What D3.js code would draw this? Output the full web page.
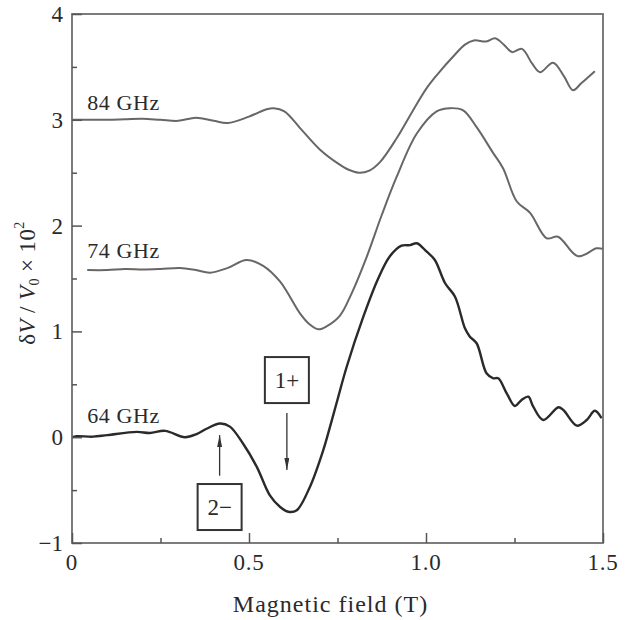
<!DOCTYPE html>
<html>
<head>
<meta charset="utf-8">
<script src="https://cdn.jsdelivr.net/npm/d3@7"></script>
<style>
  html, body { margin: 0; padding: 0; background: #fff; }
  #chart { width: 632px; height: 620px; }
  text { font-family: "Liberation Serif", "Times New Roman", Times, serif; fill: #2a2a2a; }
</style>
</head>
<body>
<div id="chart"></div>
<script>
'use strict';

const MARGIN = { top: 14, right: 29, bottom: 77, left: 72 };
const W = 632, H = 620;
const FONT = '"Liberation Serif", "Times New Roman", Times, serif';

// Ticks
const X_MAJOR = [0, 0.5, 1.0, 1.5];
const X_MINOR = [0.25, 0.75, 1.25];
const X_LABELS = ['0', '0.5', '1.0', '1.5'];
const Y_MAJOR = [-1, 0, 1, 2, 3, 4];
const Y_MINOR = [-0.5, 0.5, 1.5, 2.5, 3.5];

// 84 GHz trace
const field84 = [0, 0.05, 0.10, 0.15, 0.20, 0.25, 0.30, 0.35, 0.40, 0.44, 0.50, 0.55, 0.57, 0.60, 0.65,
  0.70, 0.75, 0.78, 0.81, 0.84, 0.87, 0.918, 0.96, 1.0, 1.03, 1.08, 1.11, 1.135, 1.17, 1.195, 1.22,
  1.243, 1.271, 1.30, 1.322, 1.359, 1.39, 1.415, 1.44, 1.477];
const dv84 = [3.00, 3.00, 3.00, 3.005, 3.01, 3.00, 2.99, 3.02, 2.99, 2.97, 3.03, 3.10, 3.11, 3.08, 2.90,
  2.72, 2.59, 2.53, 2.50, 2.52, 2.60, 2.83, 3.07, 3.29, 3.42, 3.61, 3.71, 3.75, 3.74, 3.77, 3.71,
  3.64, 3.67, 3.53, 3.45, 3.54, 3.41, 3.28, 3.35, 3.46];

// 74 GHz trace
const field74 = [0.043, 0.10, 0.15, 0.20, 0.25, 0.305, 0.35, 0.39, 0.44, 0.493, 0.54, 0.588, 0.644, 0.67,
  0.696, 0.72, 0.757, 0.79, 0.832, 0.875, 0.917, 0.974, 1.030, 1.068, 1.105, 1.143, 1.189, 1.218,
  1.256, 1.294, 1.341, 1.373, 1.429, 1.482, 1.5];
const dv74 = [1.58, 1.58, 1.59, 1.585, 1.59, 1.60, 1.58, 1.555, 1.60, 1.675, 1.62, 1.47, 1.17, 1.07,
  1.02, 1.05, 1.15, 1.36, 1.70, 2.10, 2.46, 2.87, 3.08, 3.11, 3.09, 2.93, 2.69, 2.54,
  2.23, 2.12, 1.88, 1.895, 1.71, 1.785, 1.78];

// 64 GHz trace
const field64 = [0, 0.013, 0.059, 0.10, 0.183, 0.22, 0.263, 0.319, 0.352, 0.38, 0.418, 0.446, 0.483, 0.522,
  0.559, 0.588, 0.611, 0.635, 0.672, 0.71, 0.729, 0.748, 0.776, 0.823, 0.865, 0.898, 0.931, 0.955,
  0.974, 1.002, 1.025, 1.054, 1.082, 1.110, 1.124, 1.143, 1.171, 1.190, 1.204, 1.228, 1.251, 1.270,
  1.289, 1.303, 1.331, 1.374, 1.388, 1.426, 1.454, 1.477, 1.496];
const dv64 = [0.0, 0.01, 0.005, 0.02, 0.05, 0.04, 0.06, 0.0, 0.03, 0.08, 0.13, 0.10, -0.06, -0.28,
  -0.55, -0.66, -0.705, -0.69, -0.47, -0.12, 0.10, 0.33, 0.666, 1.139, 1.50, 1.71, 1.81, 1.815,
  1.833, 1.753, 1.675, 1.455, 1.328, 1.029, 0.95, 0.888, 0.604, 0.557, 0.557, 0.415, 0.295, 0.352,
  0.383, 0.288, 0.163, 0.283, 0.257, 0.109, 0.163, 0.25, 0.179];

const SERIES = [
  { name: '84 GHz', field: field84, dv: dv84, color: '#676767', width: 2,   labelAt: [0.043, 3.09] },
  { name: '74 GHz', field: field74, dv: dv74, color: '#676767', width: 2,   labelAt: [0.043, 1.69] },
  { name: '64 GHz', field: field64, dv: dv64, color: '#2a2a2a', width: 2.4, labelAt: [0.043, 0.134] },
];

// Resonance markers: box centre and arrow from -> to (data units)
const MARKERS = [
  { label: '1+', x: 0.607, boxY: 0.54,  from: 0.229,  to: -0.31 },
  { label: '2\u2212', x: 0.417, boxY: -0.66, from: -0.364, to: 0.02 },
];

const w = W - MARGIN.left - MARGIN.right;
const h = H - MARGIN.top - MARGIN.bottom;

const x = d3.scaleLinear().domain([0, 1.5]).range([0, w]);
const y = d3.scaleLinear().domain([-1, 4]).range([h, 0]);

const svg = d3.select('#chart').append('svg')
  .attr('width', W).attr('height', H)
  .attr('font-family', FONT);
const g = svg.append('g').attr('transform', `translate(${MARGIN.left},${MARGIN.top})`);

svg.append('defs').append('marker')
  .attr('id', 'arrow').attr('viewBox', '0 0 12 5')
  .attr('refX', 12).attr('refY', 2.5)
  .attr('markerWidth', 12).attr('markerHeight', 5)
  .attr('markerUnits', 'userSpaceOnUse')
  .attr('orient', 'auto')
  .append('path').attr('d', 'M0,0 L12,2.5 L0,5 Z').attr('fill', '#333');

// Curves
const line = d3.line().curve(d3.curveCatmullRom.alpha(0.5));
SERIES.forEach(s => {
  const pts = s.field.map((f, i) => [x(f), y(s.dv[i])]);
  g.append('path')
    .attr('d', line(pts))
    .attr('fill', 'none')
    .attr('stroke', s.color)
    .attr('stroke-width', s.width)
    .attr('stroke-linejoin', 'round');
  g.append('text')
    .attr('x', x(s.labelAt[0])).attr('y', y(s.labelAt[1]))
    .attr('font-size', '22px')
    .attr('letter-spacing', '0.6px')
    .text(s.name);
});

// Frame
g.append('rect')
  .attr('width', w).attr('height', h)
  .attr('fill', 'none').attr('stroke', '#6e6e6e').attr('stroke-width', 1.8);

// Inward ticks
const tickStyle = sel => sel.attr('stroke', '#555').attr('stroke-width', 1.5);
g.append('g').attr('transform', `translate(0,${h})`)
  .call(d3.axisBottom(x).tickValues(X_MAJOR).tickSize(-10).tickFormat(''))
  .call(a => { a.select('.domain').remove(); a.selectAll('line').call(tickStyle); });
g.append('g').attr('transform', `translate(0,${h})`)
  .call(d3.axisBottom(x).tickValues(X_MINOR).tickSize(-5).tickFormat(''))
  .call(a => { a.select('.domain').remove(); a.selectAll('line').call(tickStyle); });
g.append('g')
  .call(d3.axisLeft(y).tickValues(Y_MAJOR).tickSize(-10).tickFormat(''))
  .call(a => { a.select('.domain').remove(); a.selectAll('line').call(tickStyle); });
g.append('g')
  .call(d3.axisLeft(y).tickValues(Y_MINOR).tickSize(-5).tickFormat(''))
  .call(a => { a.select('.domain').remove(); a.selectAll('line').call(tickStyle); });

// Tick labels
X_MAJOR.forEach((v, i) => {
  g.append('text')
    .attr('x', x(v)).attr('y', h + 27)
    .attr('text-anchor', 'middle')
    .attr('font-size', '23px').attr('letter-spacing', '0.8px')
    .text(X_LABELS[i]);
});
Y_MAJOR.forEach(v => {
  g.append('text')
    .attr('x', -9).attr('y', y(v) + 8)
    .attr('text-anchor', 'end')
    .attr('font-size', '23px')
    .text(v < 0 ? '\u2212' + Math.abs(v) : String(v));
});

// Axis titles
g.append('text')
  .attr('x', w / 2 - 7).attr('y', h + 69)
  .attr('text-anchor', 'middle')
  .attr('font-size', '24px').attr('letter-spacing', '1px')
  .text('Magnetic field (T)');

const yl = svg.append('text')
  .attr('transform', `translate(35,283) rotate(-90)`)
  .attr('text-anchor', 'middle')
  .attr('font-size', '23px')
  .attr('letter-spacing', '0.4px');
yl.append('tspan').text('\u03B4');
yl.append('tspan').attr('font-style', 'italic').text('V');
yl.append('tspan').text(' / ');
yl.append('tspan').attr('font-style', 'italic').text('V');
yl.append('tspan').attr('font-size', '14px').attr('dy', 4).text('0');
yl.append('tspan').attr('dy', -4).text(' \u00D7 10');
yl.append('tspan').attr('font-size', '14px').attr('dy', -11).text('2');

// Resonance markers
MARKERS.forEach(m => {
  const cx = x(m.x), cy = y(m.boxY);
  g.append('rect')
    .attr('x', cx - 22).attr('y', cy - 23)
    .attr('width', 44).attr('height', 46)
    .attr('fill', '#fff').attr('stroke', '#333').attr('stroke-width', 2);
  g.append('text')
    .attr('x', cx).attr('y', cy + 8)
    .attr('text-anchor', 'middle')
    .attr('font-size', '23px')
    .text(m.label);
  g.append('line')
    .attr('x1', cx).attr('x2', cx)
    .attr('y1', y(m.from)).attr('y2', y(m.to))
    .attr('stroke', '#333').attr('stroke-width', 1.3)
    .attr('marker-end', 'url(#arrow)');
});
</script>
</body>
</html>
